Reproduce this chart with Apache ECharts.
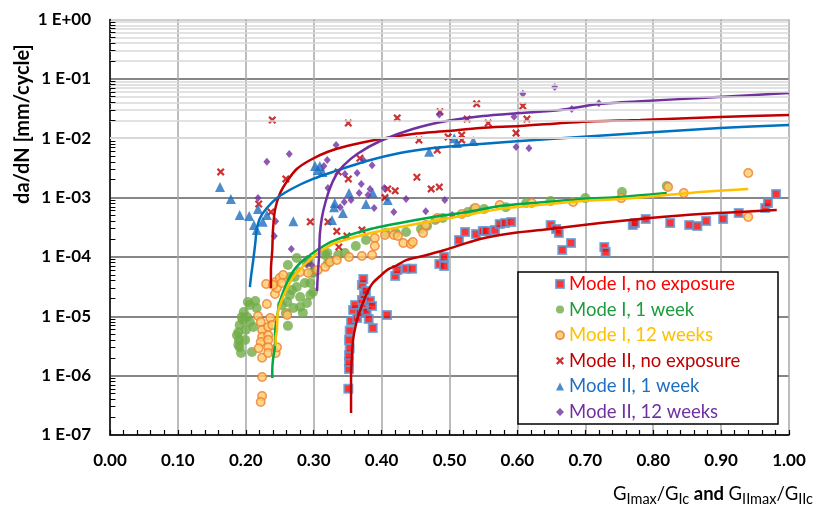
<!DOCTYPE html>
<html><head><meta charset="utf-8">
<script src="https://cdn.jsdelivr.net/npm/echarts@6/dist/echarts.min.js"></script>
<style>html,body{margin:0;padding:0;background:#fff}#c{width:814px;height:509px}</style>
</head><body><div id="c"></div>
<script>
// ---------- DATA ----------
const xTickValues = [0, 0.1, 0.2, 0.3, 0.4, 0.5, 0.6, 0.7, 0.8, 0.9, 1.0];
const yDecades = [1e-7, 1e-6, 1e-5, 1e-4, 1e-3, 1e-2, 1e-1, 1];
const legendNames = ['Mode I, no exposure', 'Mode I, 1 week', 'Mode I, 12 weeks', 'Mode II, no exposure', 'Mode II, 1 week', 'Mode II, 12 weeks'];

const modeINoExposure = [[0.351,6.0e-7],[0.352,1.3e-6],[0.352,1.7e-6],[0.352,2.2e-6],[0.353,2.9e-6],[0.352,4.0e-6],[0.353,5.7e-6],[0.355,8.3e-6],[0.358,1.28e-5],[0.361,1.55e-5],[0.364,9.4e-6],[0.368,1.14e-5],[0.371,1.88e-5],[0.373,1.38e-5],[0.374,2.28e-5],[0.371,3.37e-5],[0.373,4.25e-5],[0.377,2.67e-5],[0.378,1.18e-5],[0.381,9.0e-6],[0.383,1.81e-5],[0.386,1.49e-5],[0.387,6.35e-6],[0.408,1.05e-5],[0.420,4.78e-5],[0.423,6.0e-5],[0.436,6.3e-5],[0.445,6.3e-5],[0.485,7.6e-5],[0.492,1.0e-4],[0.492,7.0e-5],[0.514,1.93e-4],[0.523,2.63e-4],[0.539,2.43e-4],[0.549,2.73e-4],[0.554,2.73e-4],[0.567,2.84e-4],[0.574,3.59e-4],[0.582,3.73e-4],[0.591,3.88e-4],[0.649,3.45e-4],[0.657,2.96e-4],[0.661,2.53e-4],[0.679,1.72e-4],[0.666,1.31e-4],[0.728,1.47e-4],[0.730,1.21e-4],[0.770,3.45e-4],[0.773,3.73e-4],[0.789,4.36e-4],[0.825,3.73e-4],[0.853,3.45e-4],[0.865,3.32e-4],[0.878,4.03e-4],[0.903,4.36e-4],[0.926,5.5e-4],[0.965,6.7e-4],[0.969,8.1e-4],[0.981,1.15e-3]];

const modeI1Week = [[0.189,5.4e-6],[0.187,4.8e-6],[0.190,4.0e-6],[0.191,3.0e-6],[0.193,2.4e-6],[0.191,7.1e-6],[0.194,9.7e-6],[0.196,8.7e-6],[0.202,9.7e-6],[0.206,8.0e-6],[0.211,6.6e-6],[0.203,1.74e-5],[0.206,1.55e-5],[0.214,1.81e-5],[0.216,1.38e-5],[0.209,2.5e-6],[0.199,4.0e-6],[0.200,5.9e-6],[0.197,1.18e-5],[0.189,3.3e-6],[0.253,1.55e-5],[0.261,1.74e-5],[0.265,2.28e-5],[0.268,2.77e-5],[0.275,3.11e-5],[0.280,2.11e-5],[0.284,1.14e-5],[0.280,1.43e-5],[0.290,1.67e-5],[0.295,2.28e-5],[0.299,2.57e-5],[0.270,1.38e-5],[0.262,6.9e-6],[0.259,1.14e-5],[0.262,7.3e-5],[0.275,9.6e-5],[0.265,4.6e-5],[0.272,4.6e-5],[0.287,3.64e-5],[0.295,3.64e-5],[0.292,8.9e-5],[0.299,5.4e-5],[0.290,7.9e-5],[0.297,5.4e-5],[0.320,1.16e-4],[0.321,7.9e-5],[0.317,1.08e-4],[0.336,1.08e-4],[0.346,1.16e-4],[0.362,1.53e-4],[0.377,1.93e-4],[0.406,2.53e-4],[0.421,2.53e-4],[0.436,2.63e-4],[0.458,2.96e-4],[0.467,3.32e-4],[0.479,4.19e-4],[0.490,4.53e-4],[0.527,5.7e-4],[0.536,6.4e-4],[0.551,6.4e-4],[0.583,6.9e-4],[0.613,8.1e-4],[0.649,8.75e-4],[0.700,9.8e-4],[0.754,1.24e-3],[0.820,1.57e-3]];

const modeI12Weeks = [[0.218,1.01e-5],[0.222,8.0e-6],[0.224,5.9e-6],[0.224,4.5e-6],[0.222,3.7e-6],[0.219,2.9e-6],[0.224,2.0e-6],[0.224,9.5e-7],[0.224,4.55e-7],[0.222,3.6e-7],[0.230,3.5e-5],[0.231,1.61e-5],[0.233,6.6e-6],[0.236,9.4e-6],[0.233,4.8e-6],[0.233,4.0e-6],[0.233,3.0e-6],[0.233,2.4e-6],[0.244,2.4e-6],[0.246,3.0e-6],[0.239,7.1e-6],[0.243,2.38e-5],[0.246,3.0e-5],[0.244,3.78e-5],[0.250,4.42e-5],[0.255,4.97e-5],[0.240,3.37e-5],[0.253,3.64e-5],[0.261,1.05e-5],[0.280,5.57e-5],[0.292,5.36e-5],[0.306,6.0e-5],[0.317,6.8e-5],[0.324,8.2e-5],[0.334,8.9e-5],[0.352,1.0e-4],[0.371,1.04e-4],[0.386,1.08e-4],[0.390,2.08e-4],[0.390,1.53e-4],[0.405,2.34e-4],[0.418,2.34e-4],[0.424,2.25e-4],[0.432,1.72e-4],[0.443,1.65e-4],[0.446,1.79e-4],[0.461,2.53e-4],[0.465,3.45e-4],[0.482,4.53e-4],[0.518,5.3e-4],[0.538,6.7e-4],[0.574,7.5e-4],[0.621,8.1e-4],[0.682,8.4e-4],[0.753,9.8e-4],[0.822,1.51e-3],[0.845,1.19e-3],[0.940,2.6e-3],[0.940,4.7e-4]];

const modeIINoExposure = [[0.163,2.7e-3],[0.239,2.03e-2],[0.259,2.06e-3],[0.219,7.8e-4],[0.237,5.7e-4],[0.295,3.9e-4],[0.321,3.9e-4],[0.334,2.7e-4],[0.337,1.47e-4],[0.349,2.25e-4],[0.371,2.85e-4],[0.351,1.8e-2],[0.336,2.7e-3],[0.351,2.06e-3],[0.368,4.6e-3],[0.423,2.2e-2],[0.452,2.2e-3],[0.455,9.3e-3],[0.473,1.4e-3],[0.482,6.3e-3],[0.485,1.5e-3],[0.486,2.8e-2],[0.405,1.0e-3],[0.409,1.4e-3],[0.420,1.3e-3],[0.498,1.05e-2],[0.518,1.13e-2],[0.518,9.3e-3],[0.526,2.1e-2],[0.540,3.8e-2],[0.557,1.8e-2],[0.598,1.22e-2],[0.608,3.5e-2],[0.614,2.1e-2]];

const modeII1Week = [[0.162,1.51e-3],[0.178,9.5e-4],[0.191,5.1e-4],[0.205,4.9e-4],[0.218,6.4e-4],[0.212,3.45e-4],[0.216,2.85e-4],[0.225,3.9e-4],[0.231,5.1e-4],[0.270,4.0e-4],[0.302,3.4e-3],[0.309,3.4e-3],[0.313,2.7e-3],[0.306,2.9e-3],[0.330,6.9e-4],[0.331,8.1e-4],[0.327,4.2e-4],[0.343,5.5e-4],[0.352,1.19e-3],[0.377,7.8e-4],[0.387,1.19e-3],[0.409,9.1e-4],[0.470,5.9e-3],[0.507,1.0e-2],[0.511,8.3e-3],[0.535,9.0e-3]];

const modeII12Weeks = [[0.264,5.4e-3],[0.231,4.0e-3],[0.218,9.8e-4],[0.244,4.0e-4],[0.242,2.25e-4],[0.267,1.36e-4],[0.320,4.3e-3],[0.315,3.4e-3],[0.333,7.7e-3],[0.373,4.3e-3],[0.386,3.5e-3],[0.364,2.6e-3],[0.346,2.5e-3],[0.370,1.7e-3],[0.367,1.19e-3],[0.380,1.1e-3],[0.383,1.4e-3],[0.355,9.1e-4],[0.345,8.4e-4],[0.339,6.9e-4],[0.389,6.7e-4],[0.404,1.45e-3],[0.436,9.5e-4],[0.418,5.7e-4],[0.465,5.9e-4],[0.493,9.1e-4],[0.485,2.5e-2],[0.598,7.1e-3],[0.617,6.8e-3],[0.595,2.3e-2],[0.608,5.6e-2],[0.655,7.3e-2],[0.680,3.1e-2],[0.720,3.9e-2],[0.290,7.6e-5],[0.297,7.3e-5],[0.504,5.1e-4],[0.321,1.45e-3]];

// fitted curves
const fitINoExposure = [[0.355,2.35e-7],[0.355,4.7e-7],[0.355,9.5e-7],[0.356,1.84e-6],[0.358,4.0e-6],[0.361,6.3e-6],[0.365,9.7e-6],[0.373,1.74e-5],[0.380,2.67e-5],[0.387,3.64e-5],[0.398,4.78e-5],[0.408,6.0e-5],[0.423,7.3e-5],[0.437,8.9e-5],[0.461,1.04e-4],[0.493,1.31e-4],[0.545,2.0e-4],[0.594,2.53e-4],[0.648,2.96e-4],[0.722,3.73e-4],[0.795,4.53e-4],[0.869,5.3e-4],[0.928,5.7e-4],[0.982,6.2e-4]];
const fitI1Week = [[0.239,9.1e-7],[0.239,1.25e-6],[0.240,1.84e-6],[0.243,3.29e-6],[0.243,5.24e-6],[0.246,9.7e-6],[0.250,1.74e-5],[0.258,3.11e-5],[0.268,5.36e-5],[0.280,7.9e-5],[0.295,1.08e-4],[0.305,1.31e-4],[0.328,1.85e-4],[0.378,2.84e-4],[0.427,3.73e-4],[0.476,4.71e-4],[0.526,5.71e-4],[0.574,7.2e-4],[0.623,8.1e-4],[0.697,9.5e-4],[0.751,1.02e-3],[0.820,1.19e-3]];
const fitI12Weeks = [[0.244,3.16e-6],[0.244,4.31e-6],[0.246,5.88e-6],[0.247,1.14e-5],[0.253,1.88e-5],[0.261,3.0e-5],[0.270,4.59e-5],[0.283,6.76e-5],[0.299,1.0e-4],[0.306,1.16e-4],[0.328,1.65e-4],[0.378,2.43e-4],[0.427,3.19e-4],[0.476,4.03e-4],[0.526,5.09e-4],[0.574,6.43e-4],[0.663,8.1e-4],[0.697,8.75e-4],[0.751,9.46e-4],[0.820,1.1e-3],[0.869,1.24e-3],[0.940,1.4e-3]];
const fitIINoExposure = [[0.237,3.0e-5],[0.237,6.0e-5],[0.239,1.31e-4],[0.240,2.84e-4],[0.243,6.2e-4],[0.250,1.15e-3],[0.261,1.9e-3],[0.275,3.03e-3],[0.295,4.3e-3],[0.320,5.86e-3],[0.349,7.4e-3],[0.398,9.7e-3],[0.446,1.18e-2],[0.496,1.32e-2],[0.545,1.49e-2],[0.604,1.61e-2],[0.692,1.88e-2],[0.781,2.03e-2],[0.898,2.28e-2],[1.0,2.46e-2]];
const fitII1Week = [[0.206,3.11e-5],[0.208,4.97e-5],[0.211,8.87e-5],[0.214,1.72e-4],[0.216,2.84e-4],[0.221,4.53e-4],[0.231,6.67e-4],[0.246,9.84e-4],[0.270,1.45e-3],[0.299,2.06e-3],[0.328,2.7e-3],[0.378,4.13e-3],[0.427,5.64e-3],[0.476,6.84e-3],[0.526,7.69e-3],[0.604,8.98e-3],[0.692,1.05e-2],[0.781,1.22e-2],[0.898,1.49e-2],[1.0,1.67e-2]];
const fitII12Weeks = [[0.305,2.67e-5],[0.306,4.97e-5],[0.308,1.08e-4],[0.309,2.34e-4],[0.312,4.53e-4],[0.317,8.1e-4],[0.324,1.45e-3],[0.333,2.4e-3],[0.343,3.4e-3],[0.364,5.42e-3],[0.398,8.98e-3],[0.446,1.43e-2],[0.496,1.95e-2],[0.549,2.37e-2],[0.604,2.66e-2],[0.663,2.99e-2],[0.722,3.8e-2],[0.781,4.2e-2],[0.869,4.75e-2],[1.0,5.8e-2]];

// ---------- STYLE ----------
const FONT = 'Lato, "Noto Sans", sans-serif';
const minorFactors = [2, 3, 4, 5, 6, 7, 8, 9];
const minorValues = [];
yDecades.slice(0, -1).forEach(d => minorFactors.forEach(f => minorValues.push(d * f)));
const crossPath = 'path://M0,2 L2,0 L5,3 L8,0 L10,2 L7,5 L10,8 L8,10 L5,7 L2,10 L0,8 L3,5 Z';

function expLabel(v) {
  const e = Math.round(Math.log10(v));
  return '1 E' + (e >= 0 ? '+' : '-') + String(Math.abs(e)).padStart(2, '0');
}

const scatterDefs = [
  {name: legendNames[0], data: modeINoExposure, symbol: 'rect', symbolSize: 8, itemStyle: {color: '#FF0000', borderColor: '#5B9BD5', borderWidth: 2}, text: '#FF0000'},
  {name: legendNames[1], data: modeI1Week, symbol: 'circle', symbolSize: 10, itemStyle: {color: '#70AD47'}, text: '#1E9B3C'},
  {name: legendNames[2], data: modeI12Weeks, symbol: 'circle', symbolSize: 8.5, itemStyle: {color: '#FFCC66', borderColor: '#ED7D31', borderWidth: 1.5}, text: '#FFC000'},
  {name: legendNames[3], data: modeIINoExposure, symbol: crossPath, symbolSize: 8, itemStyle: {color: '#C00000'}, text: '#C00000'},
  {name: legendNames[4], data: modeII1Week, symbol: 'triangle', symbolSize: 10, itemStyle: {color: '#1F6FC0'}, text: '#1F6FC0'},
  {name: legendNames[5], data: modeII12Weeks, symbol: 'diamond', symbolSize: [7, 8], itemStyle: {color: '#7030A0'}, text: '#7030A0'}
];
const fitDefs = [
  {name: 'fit1', data: fitINoExposure, color: '#C00000'},
  {name: 'fit2', data: fitI1Week, color: '#00A846'},
  {name: 'fit3', data: fitI12Weeks, color: '#FFC000'},
  {name: 'fit4', data: fitIINoExposure, color: '#C00000'},
  {name: 'fit5', data: fitII1Week, color: '#0070C0'},
  {name: 'fit6', data: fitII12Weeks, color: '#7030A0'}
];

const series = [];
series.push({
  type: 'line', name: 'minorGrid', data: [], z: 1, silent: true,
  markLine: {silent: true, symbol: 'none', label: {show: false}, animation: false,
    lineStyle: {color: '#D9D9D9', width: 1.5, type: 'solid'},
    data: minorValues.map(v => ({yAxis: v}))}
});
series.push({
  type: 'line', name: 'minorTicks', data: [], z: 1, silent: true,
  markLine: {silent: true, symbol: 'none', label: {show: false}, animation: false,
    lineStyle: {color: '#000', width: 1, type: 'solid'},
    data: minorValues.map(v => [{coord: [0, v]}, {coord: [0.008, v]}])}
});
scatterDefs.forEach(s => series.push({
  type: 'scatter', name: s.name, data: s.data, symbol: s.symbol, symbolSize: s.symbolSize,
  itemStyle: s.itemStyle, z: 2, emphasis: {disabled: true}
}));
fitDefs.forEach(f => series.push({
  type: 'line', name: f.name, data: f.data, showSymbol: false, symbol: 'none', smooth: 0.25,
  lineStyle: {color: f.color, width: 2.5}, z: 3, silent: true, emphasis: {disabled: true}
}));

const chart = echarts.init(document.getElementById('c'), null, {renderer: 'canvas'});
chart.setOption({
  animation: false,
  backgroundColor: '#fff',
  grid: {left: 110, right: 25, top: 19.5, bottom: 74, containLabel: false},
  xAxis: {
    type: 'value', min: 0, max: 1, interval: 0.1,
    axisLine: {show: true, lineStyle: {color: '#000', width: 1.5}},
    axisTick: {show: true, inside: true, length: 5, lineStyle: {color: '#000', width: 1.2}},
    minorTick: {show: true, splitNumber: 5, length: 5, lineStyle: {color: '#000', width: 1.2}},
    splitLine: {show: true, lineStyle: {color: '#A6A6A6', width: 1.5}},
    axisLabel: {margin: 17, fontFamily: FONT, fontWeight: 'bold', fontSize: 17, color: '#000',
      formatter: v => v.toFixed(2)}
  },
  yAxis: {
    type: 'log', logBase: 10, min: 1e-7, max: 1, splitNumber: 7,
    axisLine: {show: true, lineStyle: {color: '#000', width: 1.5}},
    axisTick: {show: false},
    splitLine: {show: true, lineStyle: {color: ['#868686','#868686','#868686','#868686','#868686','#868686','#868686','#D0D0D0'], width: 1.8}},
    axisLabel: {margin: 19, fontFamily: FONT, fontWeight: 'bold', fontSize: 17, color: '#000',
      formatter: v => expLabel(v)}
  },
  legend: {
    orient: 'vertical', left: 555, top: 274, padding: 0, itemGap: 5.6, z: 10,
    itemWidth: 8, itemHeight: 8, selectedMode: false,
    textStyle: {fontFamily: FONT, fontSize: 18.5, lineHeight: 20},
    data: scatterDefs.map(s => ({name: s.name, textStyle: {color: s.text}}))
  },
  graphic: [
    {type: 'rect', z: 5, shape: {x: 518, y: 272, width: 260, height: 152},
      style: {fill: '#fff', stroke: '#000', lineWidth: 1.5}},
    {type: 'text', z: 5, x: 23, y: 124, rotation: Math.PI / 2,
      style: {text: 'da/dN [mm/cycle]', fontFamily: FONT, fontWeight: 'bold', fontSize: 20, fill: '#000',
        align: 'center', verticalAlign: 'middle'}},
    {type: 'text', z: 5, right: 1, top: 485,
      style: {
        text: '{g|G}{s|Imax}{g|/G}{s|Ic}{b| and }{g|G}{s|IImax}{g|/G}{s|IIc}',
        fill: '#000',
        rich: {
          g: {fontFamily: FONT, fontSize: 18.5, lineHeight: 24, fill: '#000'},
          s: {fontFamily: FONT, fontSize: 14.5, lineHeight: 13, verticalAlign: 'bottom', fill: '#000'},
          b: {fontFamily: FONT, fontSize: 18.5, fontWeight: 'bold', lineHeight: 24, fill: '#000'}
        }
      }}
  ],
  series: series
});
</script>
</body></html>
